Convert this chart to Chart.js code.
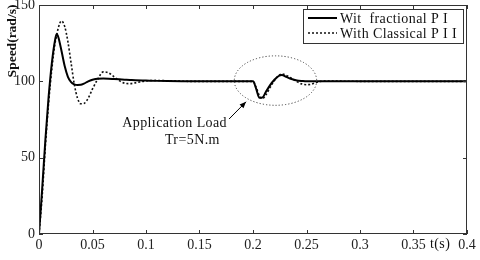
<!DOCTYPE html>
<html>
<head>
<meta charset="utf-8">
<script src="https://cdn.jsdelivr.net/npm/chart.js@4/dist/chart.umd.min.js"></script>
<style>
html,body{margin:0;padding:0;background:#fff;}
#wrap{width:480px;height:260px;position:relative;}
</style>
</head>
<body>
<div id="wrap"><canvas id="speed"></canvas></div>
<script>
/* ===== DATA ===== */
const time = [0,0.003,0.006,0.009,0.012,0.015,0.0165,0.018,0.021,0.024,0.027,0.030,0.033,0.036,0.039,0.042,0.046,0.050,0.055,0.060,0.065,0.070,0.075,0.080,0.085,0.090,0.100,0.110,0.120,0.140,0.160,0.180,0.200,0.203,0.206,0.209,0.212,0.216,0.220,0.224,0.227,0.231,0.236,0.241,0.246,0.250,0.254,0.258,0.263,0.270,0.300,0.350,0.400];
const fractionalPI = [0,30,62,90,112,127,131,129,120,110,103,99.5,98,97.6,97.7,98.5,100,101,101.7,101.8,101.7,101.5,101.3,101.1,100.9,100.7,100.5,100.3,100.2,100.1,100,100,100,95,89.2,89.5,93,97.5,101,103.5,104.2,103,101.5,100.6,100.2,100,100,100,100,100,100,100,100];
const classicalPI = [0,25,58,86,108,125,130,135,139.5,136,126,112,98,89,85.3,85.5,89,95,101.5,106.2,105.6,103,100.5,98.8,98.5,99,100.3,100.6,100.4,100,100,100,100,96,90.5,88.7,91,96,100.5,103.8,104.8,104,102,99.8,98.2,97.8,98,99,100,100.2,100,100,100];
const xTicks = [0,0.05,0.1,0.15,0.2,0.25,0.3,0.35,0.4];
const yTicks = [0,50,100,150];
const seriesNames = ["Wit  fractional P I","With Classical P I I"];

const serif = "'Liberation Serif','Times New Roman',serif";

/* ===== extras: frame, inward ticks, annotation, legend ===== */
const extras = {
id:"extras",
afterDraw(chart){
const ctx = chart.ctx, a = chart.chartArea;
const xs = chart.scales.x, ys = chart.scales.y;
ctx.save();
// frame
ctx.strokeStyle = "#333"; ctx.lineWidth = 1;
ctx.strokeRect(a.left+0.5, a.top+0.5, a.right-a.left-1, a.bottom-a.top-1);
// inward ticks
ctx.beginPath();
xTicks.forEach(v=>{
const x = Math.round(xs.getPixelForValue(v))+0.5;
ctx.moveTo(x,a.bottom); ctx.lineTo(x,a.bottom-4);
ctx.moveTo(x,a.top); ctx.lineTo(x,a.top+4);
});
yTicks.forEach(v=>{
const y = Math.round(ys.getPixelForValue(v))+0.5;
ctx.moveTo(a.left,y); ctx.lineTo(a.left+4,y);
ctx.moveTo(a.right,y); ctx.lineTo(a.right-4,y);
});
ctx.stroke();

// dotted ellipse around the load step
const cx = xs.getPixelForValue(0.221), cy = ys.getPixelForValue(100.5);
const rx = xs.getPixelForValue(0.221+0.0385)-cx, ry = cy-ys.getPixelForValue(100.5+16.2);
ctx.beginPath();
ctx.setLineDash([1.2,2]);
ctx.strokeStyle = "#444";
ctx.ellipse(cx,cy,rx,ry,0,0,Math.PI*2);
ctx.stroke();
ctx.setLineDash([]);

// arrow
const x0 = xs.getPixelForValue(0.1776), y0 = ys.getPixelForValue(75.3);
const x1 = xs.getPixelForValue(0.1935), y1 = ys.getPixelForValue(86.6);
ctx.strokeStyle = "#000"; ctx.lineWidth = 1;
ctx.beginPath(); ctx.moveTo(x0,y0); ctx.lineTo(x1,y1); ctx.stroke();
const ang = Math.atan2(y1-y0,x1-x0);
ctx.beginPath();
ctx.moveTo(x1,y1);
ctx.lineTo(x1-7*Math.cos(ang-0.4),y1-7*Math.sin(ang-0.4));
ctx.lineTo(x1-7*Math.cos(ang+0.4),y1-7*Math.sin(ang+0.4));
ctx.closePath(); ctx.fillStyle="#000"; ctx.fill();

// annotation text
ctx.fillStyle = "#111";
ctx.letterSpacing = "0.4px";
ctx.font = "14px "+serif;
ctx.textAlign = "right"; ctx.textBaseline = "alphabetic";
ctx.fillText("Application Load", xs.getPixelForValue(0.1757), ys.getPixelForValue(70));
ctx.fillText("Tr=5N.m", xs.getPixelForValue(0.169), ys.getPixelForValue(58.8));

// x axis unit
ctx.font = "14px "+serif;
ctx.textAlign = "left"; ctx.textBaseline = "middle";
ctx.fillText("t(s)", xs.getPixelForValue(0.3654), a.bottom+10);

// y axis title
ctx.save();
ctx.translate(13, 41);
ctx.rotate(-Math.PI/2);
ctx.letterSpacing = "0px";
ctx.font = "bold 13.5px "+serif;
ctx.textAlign = "center"; ctx.textBaseline = "middle";
ctx.fillText("Speed(rad/s)",0,0);
ctx.restore();

// legend box
const lw = 160, lh = 34, lx = a.right-164, ly = a.top+4;
ctx.fillStyle = "#fff";
ctx.fillRect(lx,ly,lw,lh);
ctx.strokeStyle = "#333"; ctx.lineWidth = 1;
ctx.strokeRect(lx+0.5,ly+0.5,lw,lh);
const rows = [ly+9, ly+24];
chart.data.datasets.forEach((d,i)=>{
ctx.beginPath();
ctx.strokeStyle = d.borderColor;
ctx.lineWidth = d.borderWidth;
ctx.setLineDash(d.borderDash||[]);
ctx.moveTo(lx+5,rows[i]); ctx.lineTo(lx+34,rows[i]);
ctx.stroke();
ctx.setLineDash([]);
ctx.fillStyle = "#111";
ctx.letterSpacing = "0.4px";
ctx.font = "14px "+serif;
ctx.textAlign = "left"; ctx.textBaseline = "middle";
ctx.fillText(d.label, lx+37, rows[i]+1);
});
ctx.restore();
}
};

new Chart(document.getElementById("speed"),{
type:"line",
data:{
datasets:[{
label:seriesNames[0],
data:time.map((t,i)=>({x:t,y:fractionalPI[i]})),
borderColor:"#000",
borderWidth:2,
pointRadius:0,
cubicInterpolationMode:"monotone"
},{
label:seriesNames[1],
data:time.map((t,i)=>({x:t,y:classicalPI[i]})),
borderColor:"#111",
borderWidth:1.6,
borderDash:[2,2],
pointRadius:0,
cubicInterpolationMode:"monotone"
}]
},
options:{
responsive:true,
maintainAspectRatio:false,
animation:false,
layout:{padding:{top:5,right:13,left:0,bottom:0}},
plugins:{legend:{display:false},tooltip:{enabled:false}},
scales:{
x:{
type:"linear",
min:0,max:0.4,
afterBuildTicks:(s)=>{s.ticks = xTicks.map(v=>({value:v}));},
afterFit:(s)=>{s.height = 26; s.paddingLeft = 0; s.paddingRight = 0;},
grid:{display:false,drawTicks:false},
border:{display:false},
ticks:{
color:"#222",
padding:3,
maxRotation:0,
autoSkip:false,
font:{family:serif,size:14},
callback:(v)=>String(+v.toFixed(2))
}
},
y:{
min:0,max:150,
afterBuildTicks:(s)=>{s.ticks = yTicks.map(v=>({value:v}));},
afterFit:(s)=>{s.width = 39; s.paddingTop = 0; s.paddingBottom = 0;},
grid:{display:false,drawTicks:false},
border:{display:false},
ticks:{
color:"#222",
padding:4,
font:{family:serif,size:14}
}
}
}
},
plugins:[extras]
});
</script>
</body>
</html>
